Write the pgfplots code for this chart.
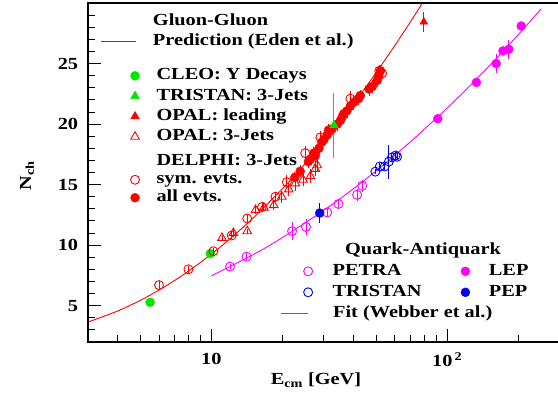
\documentclass[border=0pt]{standalone}
\usepackage{fontspec}
\setmainfont{Liberation Serif}[FakeStretch=1.2]
\usepackage{pgfplots}
\pgfplotsset{compat=1.18}
\definecolor{cgreen}{RGB}{0,230,0}
\definecolor{cred}{RGB}{255,0,0}
\definecolor{cmag}{RGB}{255,0,255}
\definecolor{cblue}{RGB}{0,0,235}
\pgfplotsset{errs/.style={error bars/y dir=both, error bars/y explicit, error bars/error mark=none,
  error bars/error bar style={line width=0.9bp}}}
\newcommand{\ext}[1]{\pgfpathmoveto{\pgfpoint{#1}{0cm}}\pgfusepath{discard}}
\begin{document}
\bfseries\fontsize{17}{20}\selectfont
\begin{tikzpicture}
\path[use as bounding box] (0,0) rectangle (558bp,393bp);
\begin{axis}[at={(88bp,51bp)}, anchor=south west, scale only axis,
  width=470bp, height=339bp, xmode=log, xmin=3, xmax=295, ymin=2, ymax=30,
  name=ax,
  axis line style={draw=none},
  tick align=inside, tick pos=left,
  major tick length=13bp, minor tick length=7bp,
  every tick/.style={black, line width=0.9bp},
  xtick={10,100}, xticklabels={10,10\textsuperscript{\,2}},
  minor xtick={3,4,5,6,7,8,9,20,30,40,50,60,70,80,90,200},
  ytick={5,10,15,20,25}, minor ytick={3,4,6,7,8,9,11,12,13,14,16,17,18,19,21,22,23,24,26,27,28,29},
  /pgf/number format/assume math mode=true,
  xticklabel style={yshift=-5bp},
  yticklabel style={xshift=-4bp},
  xlabel={E\textsubscript{cm} [GeV]},
  ylabel={N\textsubscript{ch}},
  every axis x label/.style={at={(axis description cs:0.485,0)}, yshift=-38bp, anchor=center},
  every axis y label/.style={at={(axis description cs:0,0.49)}, xshift=-61bp, rotate=90, anchor=center},
  legend style={at={(axis description cs:0.0255,0.9687)}, anchor=north west, draw=none, fill=none,
    inner sep=0pt, nodes={inner sep=0pt, text height=12bp, text depth=4bp},
    row sep=4bp, /tikz/column 1/.style={column sep=17bp},
    font=\bfseries\fontsize{17}{20}\selectfont},
  legend cell align=left,
]
\addplot[cred, line width=0.9bp, smooth, forget plot] coordinates {
(3,3.65) (4,4.55) (5,5.44) (6,6.29) (7,7.09) (8,7.85) (10,9.25) (12,10.52) (15,12.22)
(20,14.65) (25,16.73) (30,18.56) (35,20.18) (40,21.65) (50,24.25) (60,26.49) (70,28.47) (80,30.25)};
\addlegendimage{empty legend}\addlegendentry{Gluon-Gluon}
\addlegendimage{legend image code/.code={\draw[draw=cred, color=cred, line width=0.9bp] (-0.95cm,0cm) -- (0.28cm,0cm);}}
\addlegendentry{Prediction (Eden et al.)}
\end{axis}
\begin{axis}[at={(88bp,51bp)}, anchor=south west, scale only axis,
  width=470bp, height=339bp, xmode=log, xmin=3, xmax=295, ymin=2, ymax=30,
  hide axis,
  legend style={at={(axis description cs:0.0255,0.8094)}, anchor=north west, draw=none, fill=none,
    inner sep=0pt, nodes={inner sep=0pt, text height=12bp, text depth=4bp},
    row sep=4.3bp, /tikz/column 1/.style={column sep=17bp},
    font=\bfseries\fontsize{17}{20}\selectfont},
  legend cell align=left,
]
\addplot[cred, only marks, mark=triangle, mark size=5bp, mark options={line width=0.9bp}, errs, forget plot]
table[x=x, y=y, y error=e] {
x y e
11.1 10.6 0.2
12.4 11.0 0.3
14.2 11.15 0.2
15.4 12.9 0.3
16.7 13.1 0.3
18.4 13.3 0.4
19.9 14.0 0.5
21.3 14.6 0.5
22.7 15.1 0.6
24.5 15.4 0.5
26.3 15.7 0.6
27.6 16.3 0.6
28.1 16.6 0.6
};
\addplot[cred, only marks, mark=triangle*, mark size=4.5bp, errs, forget plot]
table[x=x, y=y, y error=e] {
x y e
79.6 28.44 0.8
};
\addplot[cgreen, only marks, mark=*, mark size=4.5bp, forget plot] coordinates {(5.5,5.28) (9.9,9.3)};
\addlegendimage{legend image code/.code={\ext{-0.95cm}
  \draw[color=cgreen, only marks, mark=*, mark size=4.5bp] plot coordinates {(0.28cm,0cm)};}}
\addlegendentry{CLEO: Υ Decays}
\addlegendimage{legend image code/.code={\ext{-0.95cm}
  \draw[color=cgreen, only marks, mark=triangle*, mark size=5bp] plot coordinates {(0.28cm,0cm)};}}
\addlegendentry{TRISTAN: 3-Jets}
\addlegendimage{legend image code/.code={\ext{-0.95cm}
  \draw[color=cred, only marks, mark=triangle*, mark size=5bp] plot coordinates {(0.28cm,0cm)};}}
\addlegendentry{OPAL: leading}
\addlegendimage{legend image code/.code={\ext{-0.95cm}
  \draw[color=cred, only marks, mark=triangle, mark size=5bp, line width=0.9bp] plot coordinates {(0.28cm,0cm)};}}
\addlegendentry{OPAL: 3-Jets}
\end{axis}
\begin{axis}[at={(88bp,51bp)}, anchor=south west, scale only axis,
  width=470bp, height=339bp, xmode=log, xmin=3, xmax=295, ymin=2, ymax=30,
  hide axis,
  legend style={at={(axis description cs:0.0255,0.5558)}, anchor=north west, draw=none, fill=none,
    inner sep=0pt, nodes={inner sep=0pt, text height=12bp, text depth=4bp},
    row sep=2bp, /tikz/column 1/.style={column sep=17bp},
    font=\bfseries\fontsize{17}{20}\selectfont},
  legend cell align=left,
]
\addplot[cred, only marks, mark=o, mark size=4.5bp, mark options={line width=0.9bp}, errs, forget plot]
table[x=x, y=y, y error=e] {
x y e
6.0 6.7 0.3
8.0 8.0 0.3
10.2 9.5 0.3
12.2 10.8 0.3
14.2 12.2 0.4
16.4 13.15 0.4
18.7 14.0 0.4
20.9 15.2 0.6
25.0 17.6 0.6
29.0 18.9 0.5
38.9 22.1 0.6
51.5 24.4 0.5
53.0 24.2 0.5
};
\addplot[cred, only marks, mark=*, mark size=4.5bp, errs, forget plot]
table[x=x, y=y, y error=e] {
x y e
22.6 15.6 0.4
23.8 16.1 0.5
25.8 16.9 0.5
26.3 17.1 0.5
27.2 17.6 0.5
27.6 17.4 0.5
28.6 18.0 0.5
29.4 18.5 0.6
30.0 18.7 0.5
31.0 19.1 0.5
31.4 19.5 0.5
32.5 19.6 0.5
34.2 20.0 0.6
35.3 20.3 0.5
35.9 20.6 0.5
36.4 20.85 0.5
37.6 21.1 0.6
38.9 21.5 0.5
40.2 21.8 0.6
42.1 22.1 0.5
42.8 22.35 0.5
46.6 22.9 0.6
48.1 23.1 0.5
50.5 23.6 0.5
51.2 24.0 0.5
52.1 24.4 0.5
};
\addplot[cgreen, only marks, mark=triangle*, mark size=5bp, errs, forget plot]
table[x=x, y=y, y error=e] {
x y e
33.1 19.9 2.7
};
\addlegendimage{empty legend}\addlegendentry{DELPHI: 3-Jets}
\addlegendimage{legend image code/.code={\ext{-0.95cm}
  \draw[color=cred, only marks, mark=o, mark size=4.5bp, line width=0.9bp] plot coordinates {(0.28cm,0cm)};}}
\addlegendentry{sym. evts.}
\addlegendimage{legend image code/.code={\ext{-0.95cm}
  \draw[color=cred, only marks, mark=*, mark size=4.5bp] plot coordinates {(0.28cm,0cm)};}}
\addlegendentry{all evts.}
\end{axis}
\begin{axis}[at={(88bp,51bp)}, anchor=south west, scale only axis,
  width=470bp, height=339bp, xmode=log, xmin=3, xmax=295, ymin=2, ymax=30,
  hide axis,
  legend style={at={(axis description cs:0.4085,0.2947)}, anchor=north west, draw=none, fill=none,
    inner sep=0pt, nodes={inner sep=0pt, text height=12bp, text depth=4bp},
    row sep=5bp, /tikz/column 1/.style={column sep=20bp},
    /tikz/column 2/.style={column sep=36bp}, /tikz/column 3/.style={column sep=19bp},
    font=\bfseries\fontsize{17}{20}\selectfont},
  legend cell align=left, legend columns=2,
]
\addplot[cmag, line width=0.9bp, smooth, forget plot] coordinates {
(10,7.46) (15,9.20) (20,10.62) (30,12.88) (40,14.65) (50,16.14) (70,18.55) (100,21.32)
(130,23.51) (160,25.33) (200,27.37) (250,29.51)};
\addplot[cmag, only marks, mark=o, mark size=4.5bp, mark options={line width=0.9bp}, errs, forget plot]
table[x=x, y=y, y error=e] {
x y e
12.0 8.23 0.2
14.1 9.05 0.3
22.0 11.15 0.75
25.2 11.5 0.7
31.0 12.7 0.4
34.6 13.4 0.3
41.5 14.16 0.5
43.6 14.9 0.5
};
\addplot[cblue, only marks, mark=o, mark size=4.5bp, mark options={line width=0.9bp}, errs, forget plot]
table[x=x, y=y, y error=e] {
x y e
49.6 16.07 0.2
51.8 16.5 0.3
54.3 16.5 0.3
56.6 16.9 1.4
58.3 17.25 0.3
60.4 17.4 0.3
61.3 17.3 0.3
};
\addplot[cblue, only marks, mark=*, mark size=4.5bp, errs, forget plot]
table[x=x, y=y, y error=e] {
x y e
28.8 12.65 0.8
};
\addplot[cmag, only marks, mark=*, mark size=4.5bp, errs, forget plot]
table[x=x, y=y, y error=e] {
x y e
91.2 20.44 0.2
133 23.44 0.3
161.4 25.0 0.8
172.4 26.04 0.3
182.4 26.18 0.8
206 28.1 0.3
};
\addlegendimage{empty legend}\addlegendentry{\makebox[0pt][l]{\hspace{12bp}Quark-Antiquark}}
\addlegendimage{empty legend}\addlegendentry{}
\addlegendimage{legend image code/.code={\ext{-0.69cm}
  \draw[color=cmag, only marks, mark=o, mark size=4.5bp, line width=0.9bp] plot coordinates {(0.28cm,0cm)};}}
\addlegendentry{PETRA}
\addlegendimage{legend image code/.code={\draw[color=cmag, only marks, mark=*, mark size=4.5bp] plot coordinates {(0.28cm,0cm)};}}
\addlegendentry{LEP}
\addlegendimage{legend image code/.code={\ext{-0.69cm}
  \draw[color=cblue, only marks, mark=o, mark size=4.5bp, line width=0.9bp] plot coordinates {(0.28cm,0cm)};}}
\addlegendentry{TRISTAN}
\addlegendimage{legend image code/.code={\draw[color=cblue, only marks, mark=*, mark size=4.5bp] plot coordinates {(0.28cm,0cm)};}}
\addlegendentry{PEP}
\addlegendimage{legend image code/.code={\draw[draw=cmag, color=cmag, line width=0.9bp] (-0.69cm,0cm) -- (0.28cm,0cm);}}
\addlegendentry{\makebox[0pt][l]{Fit (Webber et al.)}}
\end{axis}
\draw[line width=1.5bp] (ax.south east) -- (ax.south west) -- (ax.north west) -- (ax.north east);
\end{tikzpicture}
\end{document}
